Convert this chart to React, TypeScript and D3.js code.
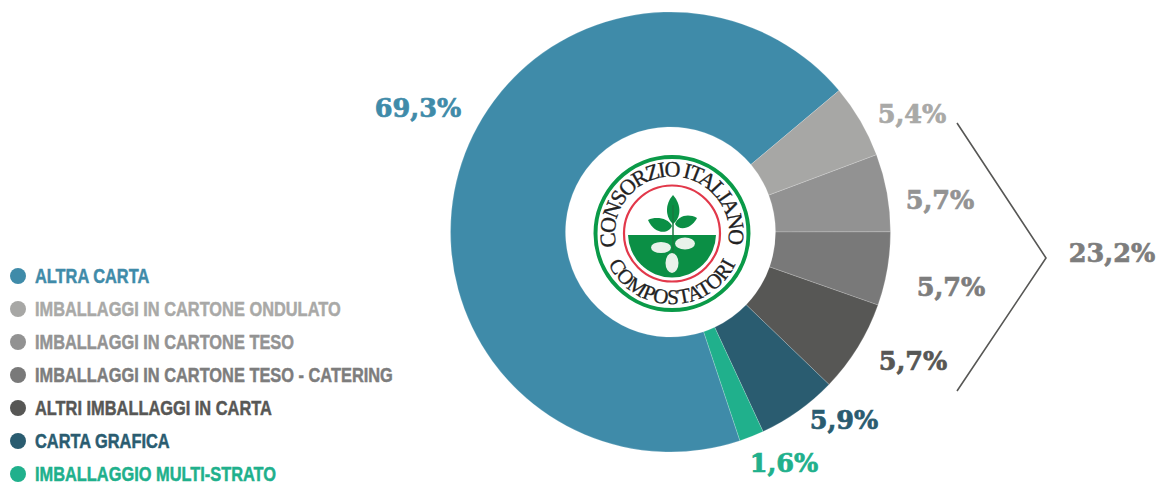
import React from "react";
import * as d3 from "d3";

const categories = ["ALTRA CARTA","IMBALLAGGI IN CARTONE ONDULATO","IMBALLAGGI IN CARTONE TESO","IMBALLAGGI IN CARTONE TESO - CATERING","ALTRI IMBALLAGGI IN CARTA","CARTA GRAFICA","IMBALLAGGIO MULTI-STRATO"];
const sliceShares = [69.0,5.4,5.7,5.4,6.8,5.9,1.8];
const valueLabels = ["69,3%","5,4%","5,7%","5,7%","5,7%","5,9%","1,6%"];
const sliceColors = ["#3f8ba9","#a7a7a5","#929292","#797979","#575755","#2a5c70","#20b08c"];
const labelColors = ["#3f8ba9","#a9a9a7","#939393","#7d7d7d","#575755","#2a5c70","#20b08c"];
const labelAnchors: [number,number][] = [[418,117],[912,123],[940,209],[951,296],[913,370],[844,429],[784,472]];
const bracketPoints: [number,number][] = [[957,123],[1046,258],[957,391]];
const totalLabel = "23,2%";

const cx = 670.5, cy = 232, R = 220, r0 = 105;
const labelFont = "'DejaVu Serif', serif";
const legendFont = "'Liberation Sans', sans-serif";

export default function App() {
  const start = (161.6 / 180) * Math.PI;
  const pie = d3.pie<number>().sort(null).startAngle(start).endAngle(start + Math.PI * 2);
  const arcs = pie(sliceShares);
  const arc = d3.arc<d3.PieArcDatum<number>>().innerRadius(r0).outerRadius(R);
  const legendY = d3.scaleLinear().domain([0, 6]).range([275.5, 473.5]);
  const bracket = d3.line()(bracketPoints) as string;
  const lx = 672, ly = 233.5;
  const g = "#0b8f45";
  return (
    <svg width={1172} height={485} style={{ position: "absolute", left: 0, top: 0, background: "#fff" }}>
      <defs>
        <path id="topArc" d={`M ${lx - 55.25} ${ly + 14} A 57 57 0 1 1 ${lx + 55.25} ${ly + 14}`} />
        <path id="botArc" d={`M ${lx - 66} ${ly + 25} A 70.5 70.5 0 0 0 ${lx + 66} ${ly + 25}`} />
        <clipPath id="lower"><rect x={lx - 60} y={ly + 1.5} width={120} height={60} /></clipPath>
      </defs>
      <g transform={`translate(${cx},${cy})`}>
        {arcs.map((a, i) => (
          <path key={i} d={arc(a) as string} fill={sliceColors[i]} stroke="#fff" strokeOpacity={0.3} strokeWidth={0.6} />
        ))}
      </g>
      <circle cx={lx} cy={ly} r={76.5} fill="#fff" stroke="#0a9a48" strokeWidth={4} />
      <circle cx={lx} cy={ly} r={48} fill="#fff" stroke="#e2384a" strokeWidth={2.2} />
      <circle cx={lx} cy={ly} r={44} fill={g} clipPath="url(#lower)" />
      <text fontFamily="'Liberation Serif', serif" fontSize={22} fill="#222" stroke="#222" strokeWidth={0.3}>
        <textPath href="#topArc" startOffset="1" textLength={203} lengthAdjust="spacing">CONSORZIO ITALIANO</textPath>
      </text>
      <text fontFamily="'Liberation Serif', serif" fontSize={21} fill="#222" stroke="#222" strokeWidth={0.3}>
        <textPath href="#botArc" startOffset="50%" textAnchor="middle">COMPOSTATORI</textPath>
      </text>
      <g>
        <path d={`M 673 195 C 664 205 666 218 673 224 C 681 218 682 205 673 195 Z`} fill={g} />
        <path d={`M 648 220 C 656 216 668 218 672 226 C 668 235 654 234 648 220 Z`} fill={g} />
        <path d={`M 697 218 C 688 213 678 216 675 224 C 680 232 692 228 697 218 Z`} fill={g} />
        <line x1={673} y1={205} x2={673} y2={262} stroke="#1a7a40" strokeWidth={1.5} />
        <ellipse cx={661} cy={247.5} rx={10} ry={5.5} fill="#e8f2ea" />
        <ellipse cx={685} cy={243.5} rx={10} ry={6} fill="#e8f2ea" />
        <ellipse cx={672} cy={263} rx={6.5} ry={10} fill="#e8f2ea" />
      </g>
      {valueLabels.map((t, i) => (
        <text key={i} x={labelAnchors[i][0]} y={labelAnchors[i][1]} textAnchor="middle" fontFamily={labelFont} fontWeight={700} fontSize={25.5} stroke={labelColors[i]} strokeWidth={0.7} fill={labelColors[i]}>{t}</text>
      ))}
      <path d={bracket} fill="none" stroke="#575755" strokeWidth={1.6} />
      <text x={1112} y={262} textAnchor="middle" fontFamily={labelFont} fontWeight={700} fontSize={25.5} stroke="#7d7d7d" strokeWidth={0.7} fill="#7d7d7d">{totalLabel}</text>
      {categories.map((c, i) => (
        <g key={c}>
          <circle cx={18} cy={legendY(i) + 0.5} r={8} fill={sliceColors[i]} />
          <text transform={`translate(35,${legendY(i) + 7}) scale(0.78,1)`} fontFamily={legendFont} fontWeight={700} fontSize={21} stroke={labelColors[i]} strokeWidth={0.5} fill={labelColors[i]}>{c}</text>
        </g>
      ))}
    </svg>
  );
}
